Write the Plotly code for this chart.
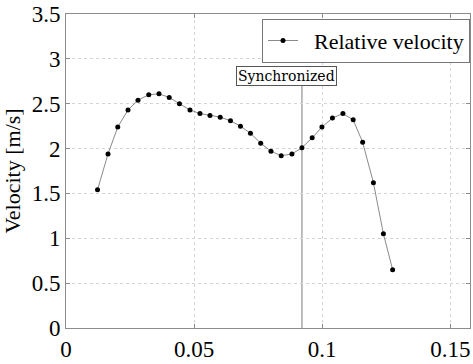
import plotly.graph_objects as go

time_s = [0.0123, 0.0164, 0.0202, 0.0242, 0.0281, 0.0323, 0.0363, 0.0403, 0.0443, 0.0484,
          0.0523, 0.0562, 0.0602, 0.0642, 0.0681, 0.0720, 0.0760, 0.0800, 0.0840, 0.0882,
          0.0921, 0.0961, 0.0999, 0.1040, 0.1081, 0.1121, 0.1158, 0.1200, 0.1239, 0.1275]
velocity = [1.54, 1.94, 2.24, 2.43, 2.54, 2.60, 2.61, 2.57, 2.50, 2.43,
            2.39, 2.37, 2.35, 2.31, 2.25, 2.17, 2.06, 1.97, 1.92, 1.94,
            2.01, 2.12, 2.24, 2.34, 2.39, 2.32, 2.07, 1.62, 1.05, 0.65]
sync_x = 0.0921
x_ticks = [0, 0.05, 0.1, 0.15]
x_ticklabels = ["0", "0.05", "0.1", "0.15"]
y_ticks = [0, 0.5, 1, 1.5, 2, 2.5, 3, 3.5]
y_ticklabels = ["0", "0.5", "1", "1.5", "2", "2.5", "3", "3.5"]

serif = "Liberation Serif"

fig = go.Figure()
fig.add_trace(go.Scatter(
    x=time_s, y=velocity, mode="lines+markers", name="\u00a0\u00a0Relative velocity",
    line=dict(color="#8a8a8a", width=1),
    marker=dict(color="black", size=5),
))

fig.add_shape(type="line", xref="x", yref="y", x0=sync_x, x1=sync_x, y0=0, y1=2.7,
              line=dict(color="#a8a8a8", width=1.5), layer="below")
fig.add_annotation(x=sync_x, y=2.7, xref="x", yref="y", text="Synchronized",
                   showarrow=False, xanchor="center", yanchor="bottom", xshift=-15,
                   font=dict(family="DejaVu Serif", size=14, color="black"),
                   bordercolor="#555", borderwidth=1, borderpad=1, bgcolor="white")

axis_common = dict(
    showline=True, linecolor="#8c8c8c", linewidth=1, mirror="allticks",
    ticks="inside", ticklen=4, tickcolor="#8c8c8c",
    showgrid=True, gridcolor="#d4d4d4", griddash="dot", gridwidth=1,
    zeroline=False, tickfont=dict(family=serif, size=23, color="black"),
)

fig.update_xaxes(range=[0, 0.1577], tickvals=x_ticks, ticktext=x_ticklabels, **axis_common)
fig.update_yaxes(range=[0, 3.5], tickvals=y_ticks, ticktext=y_ticklabels,
                 title=dict(text="Velocity [m/s]", font=dict(family=serif, size=22, color="black"), standoff=4),
                 **axis_common)

fig.update_layout(
    width=473, height=364,
    margin=dict(l=66, r=2, t=14, b=28),
    paper_bgcolor="white", plot_bgcolor="white",
    showlegend=True,
    legend=dict(x=1, y=0.985, xanchor="right", yanchor="top",
                bordercolor="#777", borderwidth=1, bgcolor="white",
                font=dict(family=serif, size=22, color="black"),
                itemwidth=30, tracegroupgap=0),
)

fig.write_html("out.html")
